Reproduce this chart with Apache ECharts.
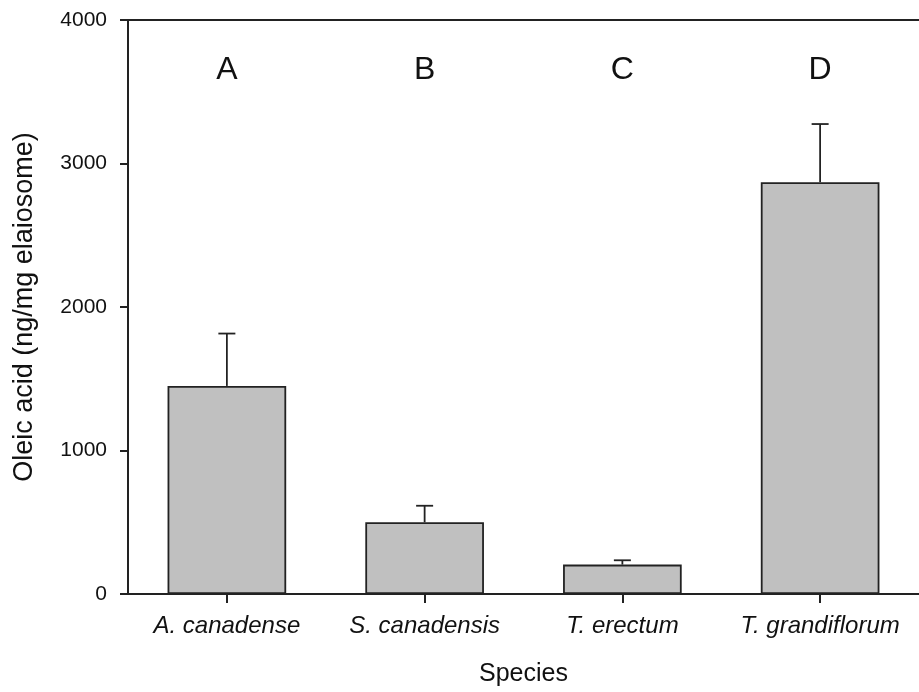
<!DOCTYPE html>
<html>
<head>
<meta charset="utf-8">
<script src="https://cdn.jsdelivr.net/npm/echarts@6/dist/echarts.min.js"></script>
<style>
  html, body { margin: 0; padding: 0; background: #fff; }
  #chart { width: 919px; height: 692px; }
</style>
</head>
<body>
<div id="chart"></div>
<script>
const species = ["A. canadense", "S. canadensis", "T. erectum", "T. grandiflorum"];
const oleicMean = [1450, 500, 205, 2870];
const oleicSE = [365, 115, 30, 405];
const groupLetters = ["A", "B", "C", "D"];
const letterLevel = [3650, 3650, 3650, 3650];
const yTicks = [0, 1000, 2000, 3000, 4000];

const font = "Liberation Sans, Arial, sans-serif";
const ink = "#111";

const chart = echarts.init(document.getElementById("chart"));

chart.setOption({
  animation: false,
  backgroundColor: "#ffffff",
  grid: {
    left: 128,
    right: -9,
    top: 20,
    bottom: 97
  },
  xAxis: [
    {
      type: "category",
      data: species,
      boundaryGap: true,
      axisLine: { show: true, lineStyle: { color: "#222", width: 2 } },
      axisTick: { show: true, alignWithLabel: true, length: 9, lineStyle: { color: "#222", width: 2 } },
      axisLabel: {
        interval: 0,
        hideOverlap: false,
        color: ink,
        fontFamily: font,
        fontSize: 24,
        fontStyle: "italic",
        margin: 20
      },
      name: "Species",
      nameLocation: "middle",
      nameGap: 68,
      nameTextStyle: { color: ink, fontFamily: font, fontSize: 25 },
      splitLine: { show: false }
    },
    {
      type: "category",
      data: species,
      position: "top",
      axisLine: { show: true, lineStyle: { color: "#222", width: 2 } },
      axisTick: { show: false },
      axisLabel: { show: false }
    }
  ],
  yAxis: {
    type: "value",
    min: yTicks[0],
    max: yTicks[yTicks.length - 1],
    interval: 1000,
    axisLine: { show: true, lineStyle: { color: "#222", width: 2 } },
    axisTick: { show: true, length: 8, lineStyle: { color: "#222", width: 2 } },
    axisLabel: {
      color: ink,
      fontFamily: font,
      fontSize: 21,
      margin: 21,
      formatter: v => String(v)
    },
    splitLine: { show: false },
    name: "Oleic acid (ng/mg elaiosome)",
    nameLocation: "middle",
    nameGap: 90,
    nameTextStyle: { color: ink, fontFamily: font, fontSize: 27 }
  },
  series: [
    {
      type: "bar",
      data: oleicMean,
      barWidth: "60%",
      itemStyle: { color: "#c0c0c0", borderColor: "#222", borderWidth: 1.8 },
      z: 2
    },
    {
      // error bars, upper side only
      type: "custom",
      z: 3,
      data: oleicMean.map((m, i) => [i, m, m + oleicSE[i]]),
      renderItem: function (params, api) {
        const base = api.coord([api.value(0), api.value(1)]);
        const top = api.coord([api.value(0), api.value(2)]);
        const half = 8.5;
        const style = { stroke: "#222", lineWidth: 1.8 };
        return {
          type: "group",
          children: [
            { type: "line", shape: { x1: base[0], y1: base[1], x2: top[0], y2: top[1] }, style: style },
            { type: "line", shape: { x1: top[0] - half, y1: top[1], x2: top[0] + half, y2: top[1] }, style: style }
          ]
        };
      }
    },
    {
      // group letters above the bars
      type: "custom",
      z: 4,
      data: letterLevel.map((v, i) => [i, v]),
      renderItem: function (params, api) {
        const p = api.coord([api.value(0), api.value(1)]);
        return {
          type: "text",
          x: p[0],
          y: p[1],
          style: {
            text: groupLetters[params.dataIndex],
            fill: ink,
            font: "32px " + font,
            align: "center",
            verticalAlign: "middle"
          }
        };
      }
    }
  ]
});
</script>
</body>
</html>
